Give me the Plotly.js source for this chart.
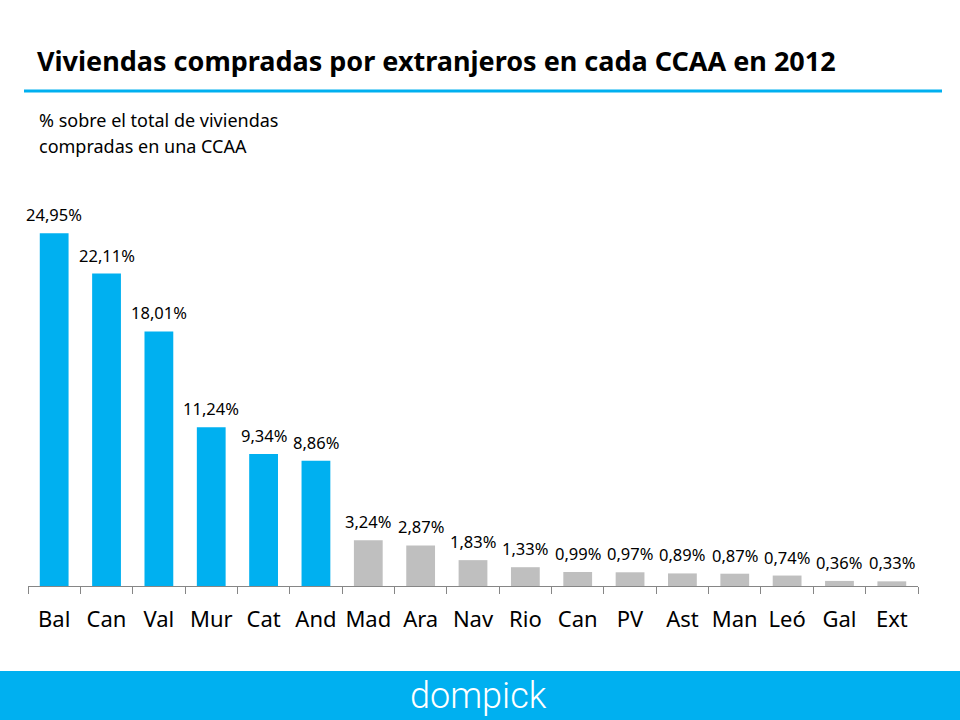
<!DOCTYPE html>
<html>
<head>
<meta charset="utf-8">
<script src="https://cdn.plot.ly/plotly-3.0.1.min.js"></script>
<style>html,body{margin:0;padding:0;background:#fff;}#chart{width:960px;height:720px;}</style>
</head>
<body>
<div id="chart"></div>
<script>
const regions = ["Bal","Can","Val","Mur","Cat","And","Mad","Ara","Nav","Rio","Can","PV","Ast","Man","Leó","Gal","Ext"];
const shares = [24.95,22.11,18.01,11.24,9.34,8.86,3.24,2.87,1.83,1.33,0.99,0.97,0.89,0.87,0.74,0.36,0.33];
const highlighted = [true,true,true,true,true,true,false,false,false,false,false,false,false,false,false,false,false];

const titleText = "Viviendas compradas por extranjeros en cada CCAA en 2012";
const subtitleLines = ["% sobre el total de viviendas", "compradas en una CCAA"];
const brandText = "dompick";

const BLUE = "#00B0F0", GREY = "#BFBFBF";
const FONT = "Noto Sans, Open Sans, sans-serif";

const idx = regions.map((_, i) => i);
const bounds = [];
for (let i = 0; i <= regions.length; i++) bounds.push(i - 0.5);

const W = 960, H = 720;
const mL = 28, mR = 42, mT = 162, mB = 134;
const pw = W - mL - mR, ph = H - mT - mB;
const px = x => (x - mL) / pw;
const py = y => (H - mB - y) / ph;

const trace = {
  type: "bar",
  x: idx,
  y: shares,
  xaxis: "x",
  yaxis: "y",
  marker: {color: highlighted.map(h => h ? BLUE : GREY)},
  hoverinfo: "skip",
  showlegend: false
};

const annotations = shares.map((v, i) => ({
  x: i, y: v, xref: "x", yref: "y",
  text: v.toFixed(2).replace(".", ",") + "%",
  showarrow: false, yanchor: "bottom", yshift: 5,
  font: {family: FONT, size: 16.5, color: "#000"}
}));

subtitleLines.forEach((t, k) => annotations.push({
  x: px(37), y: py(120 + 26 * k), xref: "paper", yref: "paper",
  xanchor: "left", yanchor: "middle", text: t, showarrow: false,
  font: {family: FONT, size: 18, color: "#000"}
}));

annotations.push({
  x: px(479), y: py(696), xref: "paper", yref: "paper",
  xanchor: "center", yanchor: "middle", text: brandText, showarrow: false,
  font: {family: "Roboto, sans-serif", size: 36, color: "#fff", weight: 300}
});

const layout = {
  width: W, height: H,
  margin: {l: mL, r: mR, t: mT, b: mB, pad: 0},
  paper_bgcolor: "#fff", plot_bgcolor: "#fff",
  bargap: 0.45,
  showlegend: false,
  title: {
    text: "<b>" + titleText + "</b>",
    xref: "container", yref: "container",
    x: 37 / W, xanchor: "left",
    y: 1 - 62 / H, yanchor: "middle",
    font: {family: FONT, size: 27, color: "#000"}
  },
  xaxis: {
    range: [-0.5, regions.length - 0.5],
    tickmode: "array", tickvals: bounds, ticktext: bounds.map(() => ""),
    ticks: "outside", ticklen: 7, tickcolor: "#868686", tickwidth: 1,
    showline: true, linecolor: "#868686", linewidth: 1,
    showgrid: false, zeroline: false, fixedrange: true
  },
  xaxis2: {
    overlaying: "x", anchor: "y", side: "bottom",
    range: [-0.5, regions.length - 0.5],
    tickmode: "array", tickvals: idx, ticktext: regions,
    ticks: "outside", ticklen: 14, tickcolor: "rgba(0,0,0,0)",
    tickfont: {family: FONT, size: 22, color: "#000"},
    showline: false, showgrid: false, zeroline: false, fixedrange: true
  },
  yaxis: {range: [0, 30], visible: false, showgrid: false, zeroline: false, fixedrange: true},
  shapes: [
    {type: "line", xref: "paper", yref: "paper", x0: px(24), x1: px(942), y0: py(91), y1: py(91),
     line: {color: BLUE, width: 3}},
    {type: "rect", xref: "paper", yref: "paper", x0: px(0), x1: px(960), y0: py(720), y1: py(671),
     fillcolor: BLUE, line: {width: 0}, layer: "below"}
  ],
  annotations: annotations
};

const ghost = {type: "scatter", x: [0], y: [0], xaxis: "x2", yaxis: "y", mode: "markers",
  marker: {opacity: 0}, hoverinfo: "skip", showlegend: false};

Plotly.newPlot("chart", [trace, ghost], layout, {displayModeBar: false, staticPlot: true});
</script>
</body>
</html>
